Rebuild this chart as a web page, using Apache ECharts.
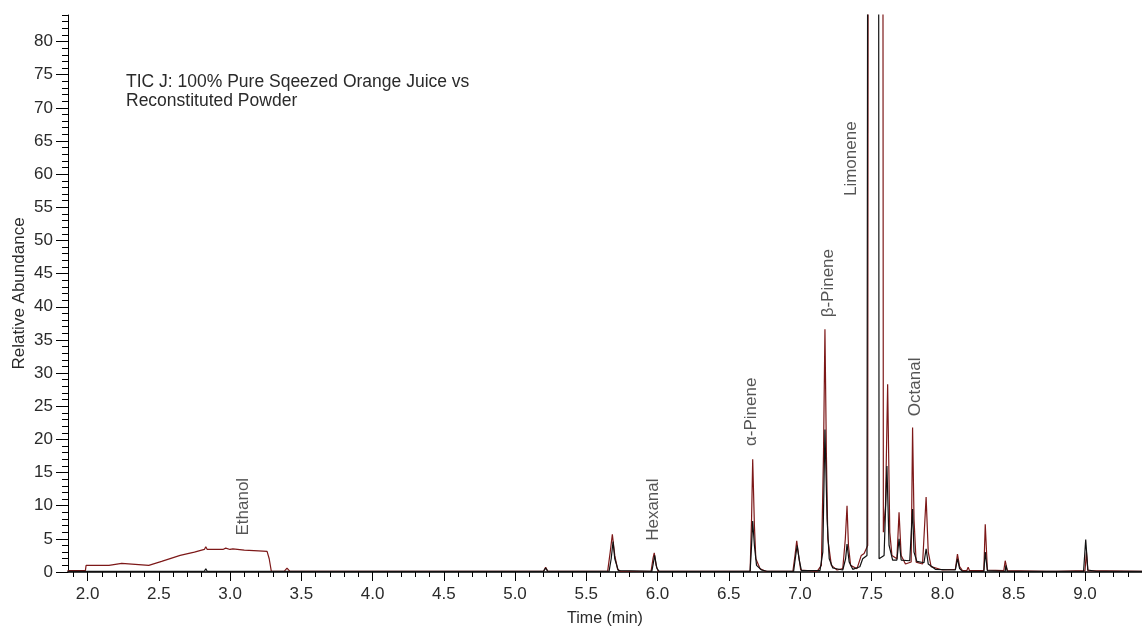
<!DOCTYPE html>
<html>
<head>
<meta charset="utf-8">
<script src="https://cdn.jsdelivr.net/npm/echarts@6/dist/echarts.min.js"></script>
<style>
  html, body { margin: 0; padding: 0; background: #fff; }
  #chart { width: 1142px; height: 632px; }
</style>
</head>
<body>
<div id="chart"></div>
<script>
// retention time (min) / relative abundance read off the TIC
// red trace: reconstituted powder, black trace: squeezed juice (guess)
const powderTrace = [
  [1.86, 0.2], [1.985, 0.2], [1.99, 1.0], [2.15, 1.0], [2.16, 1.3], [2.24, 1.3],
  [2.25, 1.0], [2.43, 1.0], [2.52, 1.6], [2.65, 2.5], [2.75, 3.0], [2.82, 3.4],
  [2.83, 3.8], [2.84, 3.4], [2.95, 3.4], [2.97, 3.6], [3.0, 3.4], [3.02, 3.5],
  [3.1, 3.3], [3.2, 3.2], [3.26, 3.1], [3.275, 2.0], [3.29, 0.1], [3.38, 0.1],
  [3.40, 0.6], [3.42, 0.1], [5.20, 0.1], [5.215, 0.7], [5.23, 0.1],
  [5.65, 0.1], [5.668, 3.0], [5.683, 5.7], [5.70, 2.5], [5.72, 0.4], [5.74, 0.1],
  [5.955, 0.1], [5.968, 2.0], [5.977, 2.9], [5.99, 1.0], [6.005, 0.1],
  [6.65, 0.1], [6.66, 8.0], [6.668, 17.0], [6.68, 7.0], [6.69, 2.0], [6.72, 0.5], [6.76, 0.1],
  [6.95, 0.1], [6.965, 2.5], [6.977, 4.7], [6.99, 2.5], [7.005, 0.3],
  [7.12, 0.1], [7.15, 1.0], [7.165, 18.0], [7.175, 36.6], [7.185, 18.0], [7.195, 5.0],
  [7.22, 1.0], [7.26, 0.3], [7.30, 0.5], [7.318, 5.0], [7.33, 10.0], [7.34, 4.0],
  [7.355, 1.0], [7.40, 0.5], [7.43, 2.5], [7.45, 2.8], [7.475, 4.0],
  [7.485, 300], [7.575, 300], [7.585, 6.0], [7.60, 10.0], [7.615, 28.3], [7.63, 6.0],
  [7.645, 2.5], [7.68, 2.0], [7.695, 9.0], [7.71, 2.5], [7.74, 1.2], [7.78, 1.5],
  [7.79, 21.8], [7.80, 8.0], [7.815, 1.5], [7.86, 1.2], [7.885, 11.3], [7.90, 3.0],
  [7.92, 0.8], [8.0, 0.3], [8.09, 0.4], [8.105, 2.7], [8.12, 0.8], [8.14, 0.2],
  [8.17, 0.2], [8.18, 0.7], [8.19, 0.2], [8.29, 0.2], [8.30, 7.2], [8.315, 0.3],
  [8.43, 0.2], [8.44, 1.7], [8.455, 0.2], [8.73, 0.1], [8.74, 0.3], [8.75, 0.1],
  [8.78, 0.1], [8.79, 0.4], [8.80, 0.1], [9.0, 0.2], [9.01, 3.0], [9.02, 0.2],
  [9.40, 0.1]
];

const squeezedTrace = [
  [1.86, 0.1], [2.82, 0.1], [2.83, 0.5], [2.84, 0.1], [3.39, 0.1], [3.40, 0.4],
  [3.41, 0.1], [5.20, 0.1], [5.215, 0.6], [5.23, 0.1],
  [5.66, 0.1], [5.675, 2.0], [5.688, 4.6], [5.70, 2.0], [5.725, 0.2],
  [5.96, 0.1], [5.972, 1.5], [5.98, 2.5], [5.995, 0.6], [6.01, 0.1],
  [6.65, 0.1], [6.66, 4.0], [6.668, 7.7], [6.68, 4.0], [6.695, 1.0], [6.73, 0.3], [6.77, 0.1],
  [6.955, 0.1], [6.968, 2.2], [6.98, 4.0], [6.995, 1.8], [7.01, 0.2],
  [7.14, 0.2], [7.16, 3.0], [7.175, 21.5], [7.19, 8.0], [7.205, 2.0], [7.23, 0.6],
  [7.30, 0.3], [7.32, 2.0], [7.33, 4.2], [7.345, 1.5], [7.37, 0.4],
  [7.42, 0.8], [7.44, 2.0], [7.47, 2.5], [7.485, 300], [7.545, 300], [7.555, 2.0],
  [7.59, 2.5], [7.61, 16.0], [7.625, 4.0], [7.65, 1.8], [7.68, 1.8], [7.695, 5.0],
  [7.71, 1.8], [7.77, 1.7], [7.79, 9.5], [7.80, 3.0], [7.82, 1.6], [7.87, 1.4],
  [7.885, 3.5], [7.90, 1.2], [7.95, 0.4], [8.09, 0.3], [8.105, 2.0], [8.12, 0.5],
  [8.14, 0.1], [8.29, 0.1], [8.30, 3.0], [8.315, 0.2], [8.44, 0.1], [8.445, 1.0],
  [8.455, 0.1], [8.99, 0.1], [9.005, 4.9], [9.02, 0.3], [9.08, 0.1], [9.085, 0.3],
  [9.09, 0.1], [9.40, 0.1]
];

// compound annotations: name, retention time, abundance at the foot of the text
const peakNames = ['Ethanol', 'Hexanal', 'α-Pinene', 'β-Pinene', 'Limonene', 'Octanal'];
const peakTimes = [3.09, 5.97, 6.66, 7.20, 7.36, 7.81];
const peakLabelBase = [5.5, 4.7, 19.0, 38.4, 56.7, 23.5];

const xMajorTicks = [2.0, 2.5, 3.0, 3.5, 4.0, 4.5, 5.0, 5.5, 6.0, 6.5, 7.0, 7.5, 8.0, 8.5, 9.0];
const xMinorTicks = [1.9, 2.0, 2.1, 2.2, 2.3, 2.4, 2.5, 2.6, 2.7, 2.8, 2.9, 3.0, 3.1, 3.2, 3.3,
  3.4, 3.5, 3.6, 3.7, 3.8, 3.9, 4.0, 4.1, 4.2, 4.3, 4.4, 4.5, 4.6, 4.7, 4.8, 4.9, 5.0, 5.1,
  5.2, 5.3, 5.4, 5.5, 5.6, 5.7, 5.8, 5.9, 6.0, 6.1, 6.2, 6.3, 6.4, 6.5, 6.6, 6.7, 6.8, 6.9,
  7.0, 7.1, 7.2, 7.3, 7.4, 7.5, 7.6, 7.7, 7.8, 7.9, 8.0, 8.1, 8.2, 8.3, 8.4, 8.5, 8.6, 8.7,
  8.8, 8.9, 9.0, 9.1, 9.2, 9.3, 9.4];
const yMajorTicks = [0, 5, 10, 15, 20, 25, 30, 35, 40, 45, 50, 55, 60, 65, 70, 75, 80];
const yMinorTicks = [0, 1, 2, 3, 4, 5, 6, 7, 8, 9, 10, 11, 12, 13, 14, 15, 16, 17, 18, 19, 20,
  21, 22, 23, 24, 25, 26, 27, 28, 29, 30, 31, 32, 33, 34, 35, 36, 37, 38, 39, 40, 41, 42, 43,
  44, 45, 46, 47, 48, 49, 50, 51, 52, 53, 54, 55, 56, 57, 58, 59, 60, 61, 62, 63, 64, 65, 66,
  67, 68, 69, 70, 71, 72, 73, 74, 75, 76, 77, 78, 79, 80, 81, 82, 83, 84];

const X_MIN = 1.863;
const X_MAX = 9.40;
const Y_MIN = 0;
const Y_MAX = 84;
const FONT = '"Liberation Sans", Arial, sans-serif';
const TEXT = '#2a2a2a';

const chart = echarts.init(document.getElementById('chart'));

const labelData = peakNames.map((n, i) => ({ name: n, value: [peakTimes[i], peakLabelBase[i]] }));

const option = {
  animation: false,
  backgroundColor: '#fff',
  grid: { left: 68, right: 0, top: 15, bottom: 59 },
  graphic: [{
    type: 'text',
    left: 126,
    top: 73,
    style: {
      text: 'TIC J: 100% Pure Sqeezed Orange Juice vs\nReconstituted Powder',
      font: '17.5px ' + FONT,
      lineHeight: 19,
      fill: TEXT
    }
  }],
  xAxis: [{
    type: 'value',
    min: X_MIN,
    max: X_MAX,
    name: 'Time (min)',
    nameLocation: 'middle',
    nameGap: 39,
    nameTextStyle: { fontFamily: FONT, fontSize: 16, color: TEXT },
    axisLine: { onZero: false, lineStyle: { color: '#000', width: 1.6 } },
    axisTick: { customValues: xMinorTicks, length: 5, lineStyle: { color: '#000' } },
    axisLabel: { show: false },
    splitLine: { show: false }
  }, {
    type: 'value',
    min: X_MIN,
    max: X_MAX,
    position: 'bottom',
    axisLine: { show: false },
    axisTick: { customValues: xMajorTicks, length: 9, lineStyle: { color: '#000' } },
    axisLabel: {
      customValues: xMajorTicks,
      margin: 14,
      fontFamily: FONT,
      fontSize: 17,
      color: TEXT,
      formatter: v => v.toFixed(1)
    },
    splitLine: { show: false }
  }],
  yAxis: [{
    type: 'value',
    min: Y_MIN,
    max: Y_MAX,
    name: 'Relative Abundance',
    nameLocation: 'middle',
    nameGap: 40,
    nameTextStyle: { fontFamily: FONT, fontSize: 17, color: TEXT },
    axisLine: { show: true, onZero: false, lineStyle: { color: '#000', width: 1 } },
    axisTick: { customValues: yMinorTicks, length: 6, lineStyle: { color: '#000' } },
    axisLabel: { show: false },
    splitLine: { show: false }
  }, {
    type: 'value',
    min: Y_MIN,
    max: Y_MAX,
    position: 'left',
    axisLine: { show: false },
    axisTick: { customValues: yMajorTicks, length: 12, lineStyle: { color: '#000' } },
    axisLabel: {
      customValues: yMajorTicks,
      margin: 15,
      fontFamily: FONT,
      fontSize: 17,
      color: TEXT
    },
    splitLine: { show: false }
  }],
  series: [{
    name: 'Reconstituted Powder',
    type: 'line',
    data: powderTrace,
    showSymbol: false,
    clip: true,
    lineStyle: { color: '#7d1818', width: 1.2 },
    z: 2
  }, {
    name: '100% Pure Squeezed',
    type: 'line',
    data: squeezedTrace,
    showSymbol: false,
    clip: true,
    lineStyle: { color: '#111', width: 1.2 },
    z: 3
  }, {
    name: 'peaks',
    type: 'scatter',
    data: labelData,
    symbolSize: 0,
    silent: true,
    label: {
      show: true,
      formatter: '{b}',
      position: [0, 0],
      rotate: 90,
      align: 'left',
      verticalAlign: 'middle',
      fontFamily: FONT,
      fontSize: 17,
      color: TEXT
    },
    z: 5
  }]
};

chart.setOption(option);
</script>
</body>
</html>
